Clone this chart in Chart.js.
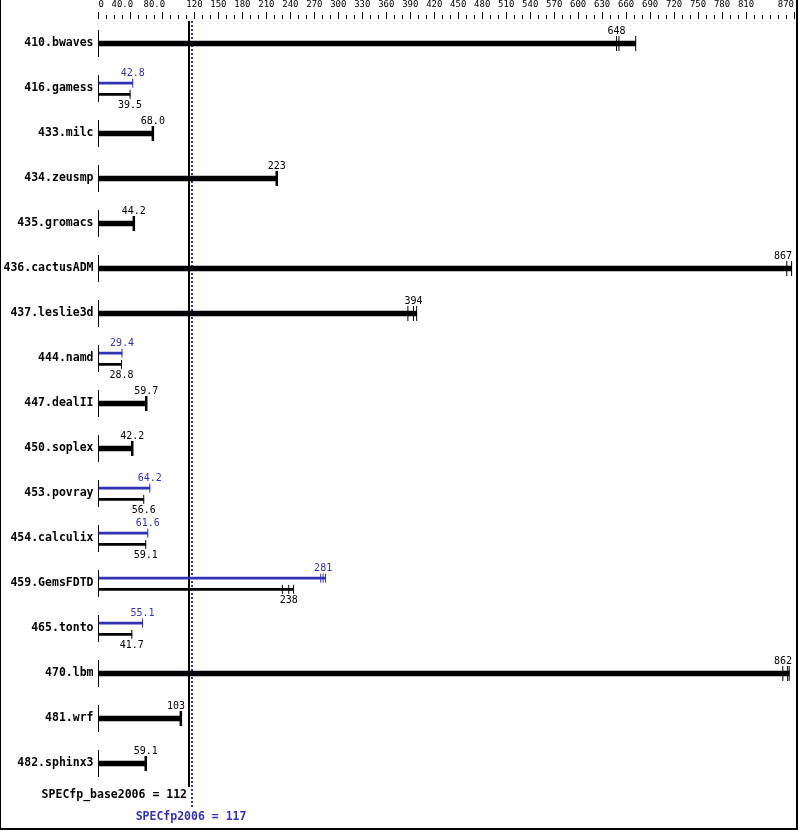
<!DOCTYPE html>
<html>
<head>
<meta charset="utf-8">
<title>SPECfp2006</title>
<script src="https://cdn.jsdelivr.net/npm/chart.js@4.4.1/dist/chart.umd.min.js"></script>
<style>
  html, body { margin: 0; padding: 0; background: #fff; }
  #wrap { width: 799px; height: 831px; }
</style>
</head>
<body>
<div id="wrap"><canvas id="specChart" width="799" height="831"></canvas></div>
<script>
// benchmark rows, top to bottom
const benchmarks = ['410.bwaves', '416.gamess', '433.milc', '434.zeusmp', '435.gromacs', '436.cactusADM',
    '437.leslie3d', '444.namd', '447.dealII', '450.soplex', '453.povray', '454.calculix', '459.GemsFDTD',
    '465.tonto', '470.lbm', '481.wrf', '482.sphinx3'];

// ratios printed next to the bars (base = black, peak = blue)
const baseScores = [648, 39.5, 68.0, 223, 44.2, 867, 394, 28.8, 59.7, 42.2, 56.6, 59.1, 238, 41.7, 862, 103, 59.1];
const peakScores = [null, 42.8, null, null, null, null, null, 29.4, null, null, 64.2, 61.6, 281, 55.1, null, null, null];

// individual runs (tick marks), the bar goes to the highest one
const baseRuns = [[648, 651, 672], [39.5], [68.0], [223], [44.2], [861, 867], [387, 394, 398], [28.8], [59.7],
    [42.2], [56.6], [59.1], [230, 238, 244], [41.7], [856, 862, 864], [103], [59.1]];
const peakRuns = [null, [42.8], null, null, null, null, null, [29.4], null, null, [64.2], [61.6], [278, 281, 284],
    [55.1], null, null, null];

// top axis
const tickValues = [0, 40, 80, 120, 150, 180, 210, 240, 270, 300, 330, 360, 390, 420, 450, 480, 510, 540, 570,
    600, 630, 660, 690, 720, 750, 780, 810, 870];
const tickLabels = ['0', '40.0', '80.0', '120', '150', '180', '210', '240', '270', '300', '330', '360', '390',
    '420', '450', '480', '510', '540', '570', '600', '630', '660', '690', '720', '750', '780', '810', '870'];

const specBase = 112;
const specPeak = 117;

const BLUE = '#3232b2';
const MONO = "'DejaVu Sans Mono', monospace";
const PEAK_SHIFT = -0.12;
const BASE_SHIFT = 0.13;

const maxOf = (a) => Math.max(...a);
const hasPeak = (i) => peakScores[i] !== null;

const thickBars = [], baseBars = [], peakBars = [];
const singleTicks = [], runTicks = [], baseTicks = [], peakTicks = [];
benchmarks.forEach((name, i) => {
    if (hasPeak(i)) {
        baseBars.push({ x: maxOf(baseRuns[i]), y: i + BASE_SHIFT });
        peakBars.push({ x: maxOf(peakRuns[i]), y: i + PEAK_SHIFT });
        baseRuns[i].forEach((v) => baseTicks.push({ x: v, y: i + BASE_SHIFT }));
        peakRuns[i].forEach((v) => peakTicks.push({ x: v, y: i + PEAK_SHIFT }));
    } else {
        thickBars.push({ x: maxOf(baseRuns[i]), y: i });
        const target = baseRuns[i].length > 1 ? runTicks : singleTicks;
        baseRuns[i].forEach((v) => target.push({ x: v, y: i }));
    }
});
const rowStubs = benchmarks.map((name, i) => ({ x: 0, y: i }));

const tickMark = (color, radius, width) => ({
    type: 'scatter',
    pointStyle: 'line',
    pointRotation: 90,
    pointRadius: radius,
    pointHoverRadius: radius,
    pointBorderWidth: width,
    pointBorderColor: color,
    clip: false,
});

// labels, reference lines and frame
const specDecor = {
    id: 'specDecor',
    beforeDatasetsDraw(chart) {
        const { ctx, scales: { x } } = chart;
        const top = chart.chartArea.top;
        ctx.save();
        ctx.strokeStyle = '#000';
        ctx.lineWidth = 2;
        const bx = Math.round(x.getPixelForValue(specBase)) + 1;
        ctx.beginPath();
        ctx.moveTo(bx, top);
        ctx.lineTo(bx, chart.chartArea.bottom + 1);
        ctx.stroke();
        ctx.strokeStyle = BLUE;
        ctx.setLineDash([2, 2]);
        const px = Math.round(x.getPixelForValue(specPeak));
        ctx.beginPath();
        ctx.moveTo(px, top);
        ctx.lineTo(px, chart.chartArea.bottom + 22);
        ctx.stroke();
        ctx.restore();
    },
    afterDatasetsDraw(chart) {
        const { ctx, scales: { x, y } } = chart;
        const right = chart.chartArea.right - 2;
        const lineX = x.getPixelForValue(specBase);
        ctx.save();
        ctx.font = '10px ' + MONO;
        ctx.textAlign = 'center';
        ctx.textBaseline = 'middle';
        const put = (value, row, dy, color) => {
            const t = value.toPrecision(3);
            const w = ctx.measureText(t).width;
            let cx = Math.min(x.getPixelForValue(value), right - w / 2);
            // keep the text off the base line
            if (cx < lineX && cx + w / 2 > lineX - 3) cx = lineX - 3 - w / 2;
            ctx.fillStyle = color;
            ctx.fillText(t, cx, y.getPixelForValue(row) + dy);
        };
        benchmarks.forEach((name, i) => {
            if (hasPeak(i)) {
                put(peakScores[i], i + PEAK_SHIFT, -10, BLUE);
                put(baseScores[i], i + BASE_SHIFT, 11, '#000');
            } else {
                put(baseScores[i], i, -12, '#000');
            }
        });

        const bottom = chart.chartArea.bottom;
        ctx.font = 'bold 11.5px ' + MONO;
        ctx.fillStyle = '#000';
        ctx.textAlign = 'right';
        ctx.fillText('SPECfp_base2006 = ' + specBase, 187, bottom + 9);
        ctx.fillStyle = BLUE;
        ctx.textAlign = 'center';
        ctx.fillText('SPECfp2006 = ' + specPeak, x.getPixelForValue(specPeak) - 1, bottom + 31);

        ctx.fillStyle = '#000';
        ctx.fillRect(0, 0, 1, 830);
        ctx.fillRect(796, 0, 2, 830);
        ctx.fillRect(0, 828, 798, 2);
        ctx.restore();
    },
};

document.addEventListener('DOMContentLoaded', function () {
    const ctx = document.getElementById('specChart').getContext('2d');
    new Chart(ctx, {
        type: 'bar',
        data: {
            datasets: [
                { data: thickBars, backgroundColor: '#000', barThickness: 5, grouped: false },
                { data: peakBars, backgroundColor: BLUE, barThickness: 2, grouped: false },
                { data: baseBars, backgroundColor: '#000', barThickness: 2, grouped: false },
                { data: singleTicks, ...tickMark('#000', 7.5, 2.5) },
                { data: runTicks, ...tickMark('#000', 7.5, 1) },
                { data: peakTicks, ...tickMark(BLUE, 4.5, 1) },
                { data: baseTicks, ...tickMark('#000', 4.5, 1) },
                { data: rowStubs, ...tickMark('#000', 13.5, 1) },
            ],
        },
        options: {
            indexAxis: 'y',
            responsive: false,
            devicePixelRatio: 1,
            animation: false,
            events: [],
            layout: { autoPadding: false, padding: { left: 0.5, right: 5, top: 0, bottom: 45 } },
            plugins: {
                legend: { display: false },
                tooltip: { enabled: false },
            },
            scales: {
                x: {
                    type: 'linear',
                    position: 'top',
                    min: 0,
                    max: 870,
                    offset: false,
                    border: { display: false },
                    grid: {
                        drawOnChartArea: false,
                        drawTicks: true,
                        tickLength: 9,
                        tickColor: '#000',
                        tickWidth: 1,
                        tickBorderDash: (c) => tickValues.includes(c.tick && c.tick.value) ? [7, 10] : [0, 3, 4, 10],
                    },
                    ticks: {
                        autoSkip: false,
                        maxRotation: 0,
                        minRotation: 0,
                        align: 'inner',
                        padding: 2,
                        color: '#000',
                        font: { family: MONO, size: 9 },
                        callback: (v) => {
                            const k = tickValues.indexOf(v);
                            if (k < 0) return '';
                            return (v === 40 || v === 80) ? tickLabels[k] + '   ' : tickLabels[k];
                        },
                    },
                    afterBuildTicks: (axis) => {
                        const vals = [];
                        for (let v = 0; v <= 870; v += 10) vals.push(v);
                        axis.ticks = vals.map((v) => ({ value: v }));
                    },
                    afterFit: (axis) => {
                        axis.height = 21;
                        axis.paddingLeft = 0;
                        axis.paddingRight = 0;
                    },
                },
                y: {
                    type: 'linear',
                    position: 'left',
                    reverse: true,
                    offset: false,
                    min: -0.5,
                    max: benchmarks.length - 0.5,
                    border: { display: false },
                    grid: { display: false, drawTicks: false, tickLength: 0 },
                    ticks: {
                        padding: 5,
                        color: '#000',
                        font: { family: MONO, size: 11.5, weight: 'bold' },
                        callback: (v) => benchmarks[v],
                    },
                    afterBuildTicks: (axis) => {
                        axis.ticks = benchmarks.map((name, i) => ({ value: i }));
                    },
                    afterFit: (axis) => {
                        axis.width = 98;
                        axis.paddingTop = 0;
                        axis.paddingBottom = 0;
                    },
                },
            },
        },
        plugins: [specDecor],
    });
});
</script>
</body>
</html>
